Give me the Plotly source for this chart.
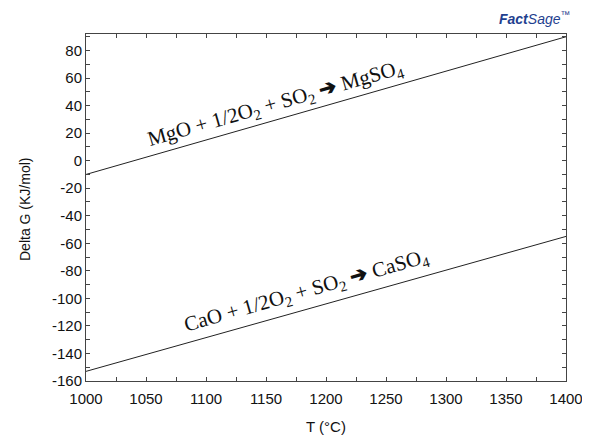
import plotly.graph_objects as go

temperature_c = [1000, 1400]
dg_mgso4 = [-10, 90]
dg_caso4 = [-153, -55]

x_ticks = [1000, 1050, 1100, 1150, 1200, 1250, 1300, 1350, 1400]
y_ticks = [-160, -140, -120, -100, -80, -60, -40, -20, 0, 20, 40, 60, 80]

label_mgso4 = "MgO + 1/2O<sub>2</sub> + SO<sub>2</sub> <b>➔</b> MgSO<sub>4</sub>"
label_caso4 = "CaO + 1/2O<sub>2</sub> + SO<sub>2</sub> <b>➔</b> CaSO<sub>4</sub>"

fig = go.Figure()
fig.add_trace(go.Scatter(x=temperature_c, y=dg_mgso4, mode="lines",
                         line=dict(color="#222222", width=1), showlegend=False))
fig.add_trace(go.Scatter(x=temperature_c, y=dg_caso4, mode="lines",
                         line=dict(color="#222222", width=1), showlegend=False))

serif = "Liberation Serif, Times New Roman, serif"
sans = "Liberation Sans, Arial, sans-serif"
fig.add_annotation(x=1158, y=41.5, xref="x", yref="y", text=label_mgso4,
                   textangle=-16, showarrow=False,
                   font=dict(family=serif, size=21, color="#111111"))
fig.add_annotation(x=1184, y=-94.5, xref="x", yref="y", text=label_caso4,
                   textangle=-16, showarrow=False,
                   font=dict(family=serif, size=21, color="#111111"))

# page body has an 8px default margin, so the figure is sized to fit inside it
OFF = 8
W, H = 590 - 2 * OFF, 443 - 2 * OFF
L, R, T, B = 86 - OFF, 590 - 566 - OFF, 34 - OFF, 443 - 381 - OFF
pw, ph = W - L - R, H - T - B

def px_to_paper(x, y):
    # x, y are screen pixels of the reference
    return (x - OFF - L) / pw, (H - B - (y - OFF)) / ph

lx, ly = px_to_paper(534, 18)
fig.add_annotation(x=lx, y=ly, xref="paper", yref="paper", showarrow=False,
                   xanchor="center", yanchor="middle",
                   text="<b><i>Fact</i></b><i>Sage</i><sup>™</sup>",
                   font=dict(family=sans, size=14, color="#1f3f8f"))

tx, ty = px_to_paper(326, 426)
fig.add_annotation(x=tx, y=ty, xref="paper", yref="paper", showarrow=False,
                   xanchor="center", yanchor="middle",
                   text="T (°C)", font=dict(family=sans, size=15, color="#111111"))
yx, yy = px_to_paper(25, 210)
fig.add_annotation(x=yx, y=yy, xref="paper", yref="paper", showarrow=False, textangle=-90,
                   xanchor="center", yanchor="middle",
                   text="Delta G (KJ/mol)", font=dict(family=sans, size=14, color="#111111"))

axis_common = dict(showline=True, linecolor="#444444", linewidth=1, mirror="ticks",
                   ticks="inside", ticklen=4, tickcolor="#444444", showgrid=False,
                   zeroline=False, automargin=False, ticklabeloverflow="allow",
                   tickfont=dict(family=sans, size=15, color="#111111"))

fig.update_xaxes(range=[1000, 1400], tickvals=x_ticks, ticktext=[str(v) for v in x_ticks],
                 minor=dict(ticks="inside", dtick=25, ticklen=4, tickcolor="#444444", showgrid=False),
                 ticklabelstandoff=4,
                 **axis_common)
fig.update_yaxes(range=[-160, 92], tickvals=y_ticks, ticktext=[str(v) for v in y_ticks],
                 minor=dict(ticks="inside", dtick=10, ticklen=4, tickcolor="#444444", showgrid=False),
                 **axis_common)

fig.update_layout(width=W, height=H, margin=dict(l=L, r=R, t=T, b=B, autoexpand=False),
                  plot_bgcolor="white", paper_bgcolor="white")

fig.write_html("out.html")
